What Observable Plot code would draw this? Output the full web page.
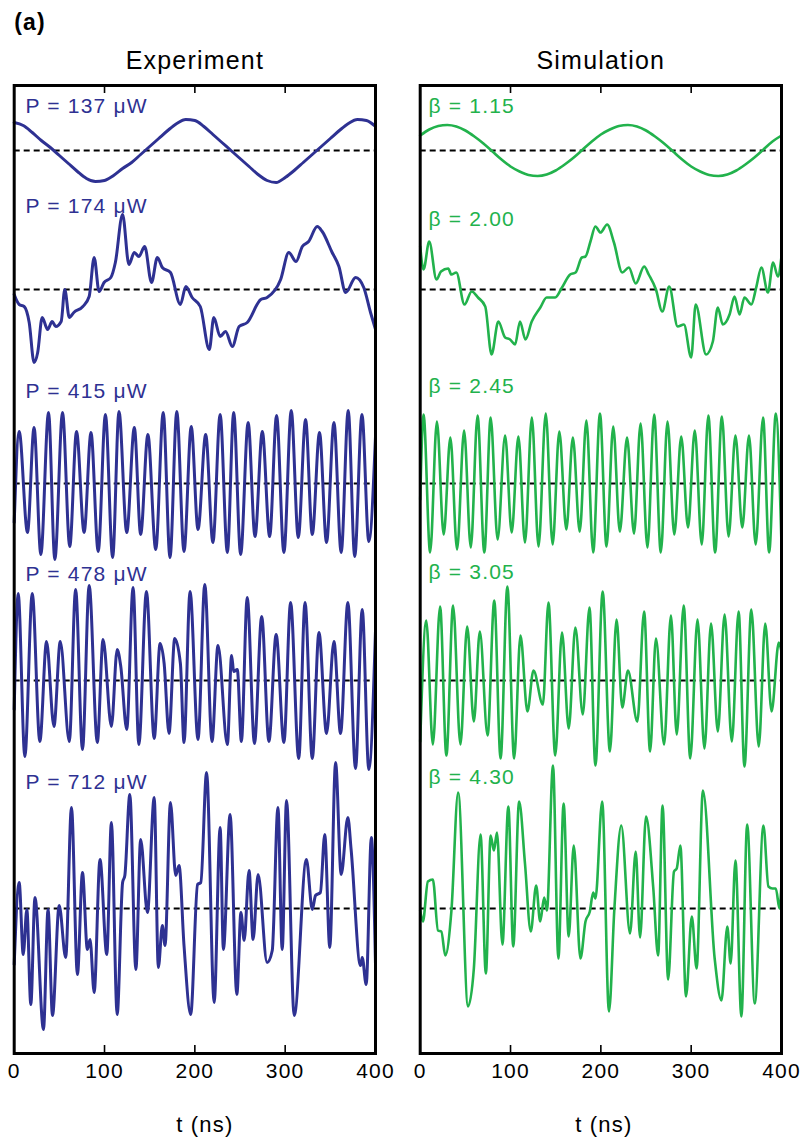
<!DOCTYPE html>
<html>
<head>
<meta charset="utf-8">
<script src="https://cdn.jsdelivr.net/npm/d3@7"></script>
<script src="https://cdn.jsdelivr.net/npm/@observablehq/plot@0.6"></script>
<style>
  body { margin: 0; background: #fff; }
  #fig { display: flex; width: 804px; height: 1139px; }
</style>
</head>
<body>
<div id="fig"></div>
<script>
// ---- Data: time traces, [t (ns), signal (a.u.)] ----
// Experiment, one trace per pump power
const expP137 = [[0,28],[10,25],[20,18],[30,10],[40,3],[50,-5],[60,-13],[70,-21],[80,-28],[90,-31],[100,-30],[110,-25],[120,-18],[130,-12],[140,-4],[150,4],[160,12],[170,20],[180,27],[190,31],[200,30],[210,24],[220,16],[230,8],[240,0],[250,-8],[260,-16],[270,-24],[280,-30],[290,-32],[300,-27],[310,-20],[320,-12],[330,-4],[340,4],[350,12],[360,20],[370,27],[380,31],[390,30],[400,24]];
const expP174 = [[0,-5],[5.5,-15],[11,-17],[16.6,-33],[22,-73],[26,-63],[31,-28],[37,-40],[42,-32],[46,-37],[52,-32],[56,0],[61,-28],[66,-23],[76,-17],[83,-7],[88.5,32],[94,-2],[99.5,7],[107,12],[112,27],[120,75],[127,25],[133,37],[138,33],[144.5,43],[152,7],[158.5,32],[164,22],[173,17],[184,-15],[190,3],[197,-8],[206,-17],[216,-60],[221,-28],[228,-47],[234,-42],[241.5,-57],[249,-37],[258,-33],[273,-10],[280,-8],[295,10],[304,37],[312,28],[319,43],[326,48],[335.5,63],[341,58],[352,37],[359.5,23],[367,-3],[378,12],[387,2],[394.5,-23],[400,-40]];
const expP415 = [[0,-39],[5.5,52],[14.7,-49],[22,56],[29.5,-71],[38,71],[45,-76],[53.5,71],[61.5,-63],[69,52],[77.4,-49],[85,51],[93,-68],[101,69],[109,-74],[116,72],[124.6,-49],[133,56],[140,-51],[148,49],[156.7,-66],[165,71],[172.5,-74],[180,72],[188,-68],[196,57],[203.5,-46],[212,49],[220,-59],[228,69],[236,-69],[243,71],[250.7,-71],[259,61],[266.6,-53],[274.7,52],[282.8,-53],[290.5,68],[298.6,-69],[306.7,73],[314.5,-54],[322.6,64],[330,-51],[338,51],[345.8,-59],[354,61],[362,-69],[369.8,73],[377,-73],[385,69],[392.6,-58],[400,47]];
const expP478 = [[0,-29],[4.4,87],[11.8,-76],[20,87],[28.4,-61],[35.8,39],[44,-46],[51,39],[61,-61],[68,91],[75.6,-69],[83,95],[92,-62],[98.4,41],[107.6,-46],[114,31],[118,14],[124.6,-49],[131.6,93],[138,-64],[146.4,89],[155,-58],[161.5,37],[166,17],[171.4,-53],[177.7,42],[184,17],[188,-62],[194.7,89],[203.5,-59],[211,96],[219,-61],[225.6,35],[236,-64],[240.7,25],[243,9],[247,11],[251.5,-61],[258,83],[266,-63],[274,64],[282,-61],[290,46],[298.6,-62],[306,78],[315,-78],[322,78],[330,-78],[337.4,48],[345.8,-53],[354,39],[361.3,-53],[369.4,78],[377.9,-88],[385.3,71],[392.6,-89],[400,50]];
const expP712 = [[0,-56],[5.5,26],[10,-46],[14,-1],[18.4,-96],[23,11],[32.4,-121],[37.5,-1],[42.4,-107],[49.8,3],[57,-49],[63.4,101],[70,-66],[75.6,36],[81,-41],[84,-31],[88.5,-84],[95,49],[102.5,-46],[107.6,86],[114,-106],[120,26],[122.5,33],[128,114],[134.7,-61],[140,69],[147.5,-4],[155,111],[159.6,-59],[164,-17],[167,-37],[173,106],[178.8,33],[182.5,43],[188,-37],[195.4,-106],[203,24],[206.6,26],[213,136],[221.4,-94],[228,81],[231.6,-41],[239,94],[246.5,-86],[251,-4],[254.6,-32],[260,38],[264.5,-31],[270,34],[280,-54],[285.7,-42],[292,101],[296.7,-41],[301.5,108],[310,-107],[323.5,49],[330,-1],[333.6,13],[339,16],[343.8,74],[349.4,-39],[355.8,146],[362,34],[369.4,91],[373,59],[383.4,-57],[385.3,-49],[389.7,-76],[395.4,71],[400,-56]];

// Simulation, one trace per feedback strength beta
const simB115 = [[0,15],[10,21],[20,24.5],[30,25.5],[40,24],[50,20],[60,14],[70,7],[80,-1],[90,-9],[100,-16],[110,-21],[120,-24.5],[130,-25.5],[140,-24],[150,-20],[160,-14],[170,-7],[180,1],[190,9],[200,16],[210,21],[220,24.5],[230,25.5],[240,24],[250,20],[260,14],[270,7],[280,-1],[290,-9],[300,-16],[310,-21],[320,-24.5],[330,-25.5],[340,-24],[350,-20],[360,-14],[370,-7],[380,1],[390,9],[400,15]];
const simB200 = [[0,43],[3.7,20],[10,48],[18,10],[23,18],[31,21],[34.5,15],[40,17],[49,-15],[57,-2],[64,-8],[72,-17],[79,-65],[86.5,-32],[94,-48],[99.5,-50],[105,-55],[110.5,-32],[116.5,-50],[123.5,-32],[133,-18],[140,-8],[149.5,-8],[157,2],[166,15],[172,17],[179,32],[183,33],[188.5,48],[194,63],[199.6,57],[207,65],[214.5,47],[223.7,17],[231,22],[238.6,6],[248,23],[253,15],[261,0],[268,-22],[275.7,3],[285,-37],[292,-35],[300,-68],[305,-15],[316.5,-65],[324,-52],[329.5,-18],[335,-35],[342.5,-25],[348,-7],[353.6,-25],[359,-8],[366.6,-15],[372,2],[377.7,22],[385,-3],[390.7,27],[396,13],[400,33]];
const simB245 = [[0,-16],[3.7,69],[11,-69],[18.5,62],[26,-51],[33.4,46],[40.8,-66],[48.6,53],[56,-64],[63.5,68],[71,-69],[78,66],[85.7,-56],[94,48],[101.3,-49],[108.7,47],[116,-59],[123.6,66],[131,-63],[139,70],[146.6,-61],[154,52],[161.8,-46],[169,46],[176.6,-48],[184,63],[191.5,-69],[199,70],[206.3,-63],[213.7,57],[221,-48],[229,46],[236.7,-50],[244,60],[251.6,-64],[259,69],[266.4,-69],[273.8,62],[281.3,-51],[289,47],[296.5,-44],[304,53],[311.7,-61],[319,68],[326.5,-69],[334,67],[341.4,-53],[349,48],[356.6,-44],[364,48],[371.4,-61],[379.6,66],[386.3,-69],[393.7,70],[400,-61]];
const simB305 = [[0,-61],[6.7,60],[14,-64],[22,74],[29,-75],[36.4,75],[44.5,-64],[52,54],[59.4,-41],[66,49],[74.6,-55],[82,80],[89,-78],[96.5,94],[104,-78],[111,45],[118.7,-31],[125.4,10],[135.8,-24],[142,78],[149.5,-75],[157,48],[164.4,-48],[171.8,53],[180,-34],[187.4,73],[194,-85],[202,89],[210,-71],[217.4,61],[223.7,-27],[230,10],[240.4,-41],[247.9,69],[254.5,-71],[261,42],[270,-64],[277.6,65],[284,-54],[291.7,75],[299,-78],[307,61],[314.7,-68],[322,57],[329.5,-51],[337,66],[345,-61],[352.5,69],[359,-86],[366.6,71],[374.8,-66],[382,57],[389,-31],[397,38],[400,29]];
const simB430 = [[0,-2],[3,-13],[8.5,27],[14,29],[19.7,-22],[23.4,-23],[27.8,-47],[34.5,-3],[42,116],[53,-98],[59.4,-60],[66.8,74],[72.7,-65],[78,73],[81.6,58],[85,76],[91,-36],[97.6,102],[103,-38],[109.5,107],[116,45],[122.4,-23],[128.4,23],[132.8,-13],[137.3,11],[140.3,-2],[147,143],[153,-50],[158.8,105],[164.4,-28],[170,63],[177.4,-50],[183,-13],[187.8,-3],[191.5,16],[194,10],[201.5,107],[209,-103],[215,0],[222.6,83],[232.3,-25],[238.6,57],[243.4,-29],[250,92],[258,21],[263.4,-47],[268.3,103],[274.5,-71],[281,37],[284,40],[288,63],[294.3,-88],[300.7,-8],[306,-60],[313,118],[326,-50],[333.5,-92],[340,-18],[343.7,-55],[349,48],[355.6,-108],[362,84],[370.4,-95],[380,83],[385.5,22],[390,20],[393.7,20],[397.8,0],[400,25]];

const powersUW = ["137", "174", "415", "478", "712"];
const betas = ["1.15", "2.00", "2.45", "3.05", "4.30"];
const timeTicks = [0, 100, 200, 300, 400];
const innerTicks = [100, 200, 300];

// ---- Layout ----
const FONT = '"Liberation Sans", Arial, Helvetica, sans-serif';
const Y_MAX = 968;                           // frame height in y units (1 unit = 1 px)
const zeroLevel = [903, 764, 570, 373, 145]; // zero line of each stacked trace
const BLUE = "#2e3192";
const GREEN = "#22b24c";

function panel({series, labels, labelT, labelY, color, lineWidth, heading, width, marginLeft, marginRight, axisLabelDx, tag}) {
  const rows = series.flatMap((s, i) => s.map(([t, v]) => ({t, y: zeroLevel[i] + v, row: i})));
  const marks = [
    Plot.ruleY(zeroLevel, {x1: 0, x2: 400, stroke: "#000", strokeWidth: 2, strokeDasharray: "6,4"}),
    Plot.line(rows, {x: "t", y: "y", z: "row", stroke: color, strokeWidth: lineWidth, curve: "monotone-x", strokeLinejoin: "round"}),
    Plot.text(labels, {x: () => labelT, y: (d, i) => labelY[i], text: d => d, textAnchor: "start", lineAnchor: "bottom", fill: color, fontSize: 21}),
    Plot.ruleX(innerTicks, {y1: 0, y2: 8, stroke: "#000", strokeWidth: 1.6}),
    Plot.ruleX(innerTicks, {y1: Y_MAX - 8, y2: Y_MAX, stroke: "#000", strokeWidth: 1.6}),
    Plot.frame({stroke: "#000", strokeWidth: 3}),
    Plot.axisX({ticks: timeTicks, tickSize: 0, tickPadding: 10, fontSize: 21, label: null, tickFormat: d => String(d)}),
    Plot.text(["t (ns)"], {frameAnchor: "bottom", dx: axisLabelDx, dy: 71, lineAnchor: "middle", fontSize: 22, fill: "#000"}),
    Plot.text([heading], {frameAnchor: "top", dy: -17, lineAnchor: "bottom", fontSize: 25, fill: "#000"})
  ];
  if (tag) marks.push(Plot.text([tag], {frameAnchor: "top-left", dy: -56, textAnchor: "start", lineAnchor: "bottom", fontSize: 23, fontWeight: "bold", fill: "#000"}));
  return Plot.plot({
    width, height: 1139,
    marginTop: 85, marginBottom: 86, marginLeft, marginRight,
    x: {domain: [0, 400]},
    y: {domain: [0, Y_MAX], axis: null},
    style: `font-family: ${FONT}; letter-spacing: 1.2px; color: #000; background: transparent; overflow: visible;`,
    marks
  });
}

const fig = document.getElementById("fig");
fig.append(panel({
  series: [expP137, expP174, expP415, expP478, expP712],
  labels: powersUW.map(p => `P = ${p} \u03bcW`),
  labelT: 12.5,
  labelY: [941, 841, 656, 473, 265],
  color: BLUE, lineWidth: 3,
  heading: "Experiment",
  width: 400, marginLeft: 13.7, marginRight: 25,
  axisLabelDx: 10,
  tag: "(a)"
}));
fig.append(panel({
  series: [simB115, simB200, simB245, simB305, simB430],
  labels: betas.map(b => `\u03b2 = ${b}`),
  labelT: 9.2,
  labelY: [941, 828, 661, 475, 270],
  color: GREEN, lineWidth: 2.6,
  heading: "Simulation",
  width: 404, marginLeft: 19.7, marginRight: 23,
  axisLabelDx: 3
}));
</script>
</body>
</html>
